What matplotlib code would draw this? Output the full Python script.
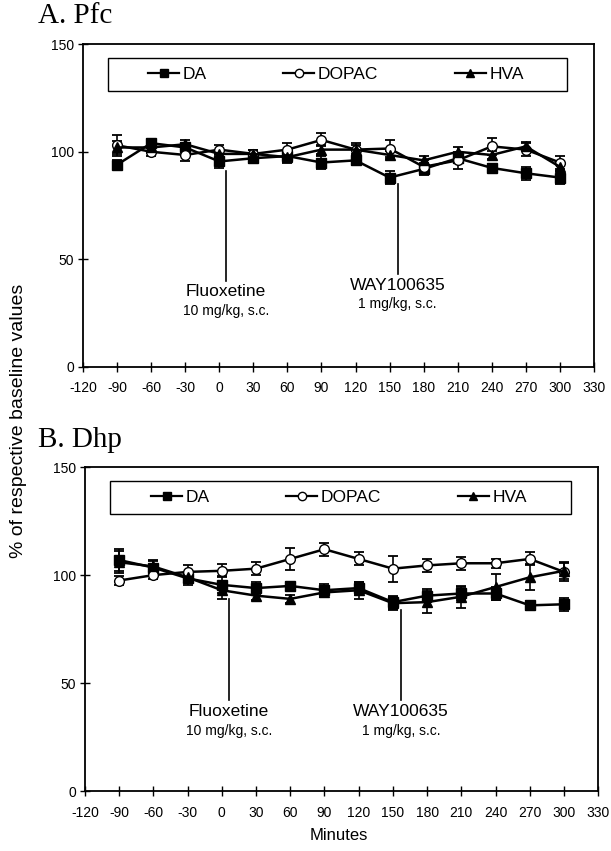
import matplotlib
matplotlib.use("Agg")
import matplotlib.pyplot as plt
from matplotlib.lines import Line2D
from matplotlib.patches import Rectangle

minutes = [-90, -60, -30, 0, 30, 60, 90, 120, 150, 180, 210, 240, 270, 300]
xticks = list(range(-120, 331, 30))

# Panel A - Pfc
pfc_da = [94, 104, 102, 95.5, 97, 98, 95, 96, 88, 92, 97, 92.5, 90, 88]
pfc_da_err = [2, 2, 2, 3, 2, 3, 3, 2, 3, 3, 2, 2, 3, 3]
pfc_dopac = [103, 100, 98.5, 101, 99, 101, 105.5, 101, 101.5, 93, 96, 102.5, 101, 95]
pfc_dopac_err = [5, 2, 3, 2, 2, 3, 3, 3, 4, 3, 4, 4, 3, 3]
pfc_hva = [102, 102, 103.5, 99, 99, 97.5, 101, 101, 98.5, 96, 100, 98.5, 102.5, 93]
pfc_hva_err = [3, 2, 2, 2, 2, 2, 2, 2, 2, 2, 2, 2, 2, 2]

# Panel B - Dhp
dhp_da = [107, 103.5, 98.5, 95.5, 94, 95, 93, 94, 87.5, 90.5, 91.5, 91.5, 86, 86.5]
dhp_da_err = [5, 3, 3, 4, 3, 2, 3, 3, 3, 3, 3, 3, 2, 3]
dhp_dopac = [97.5, 100, 101.5, 102, 103, 107.5, 112, 107.5, 103, 104.5, 105.5, 105.5, 107.5, 101.5]
dhp_dopac_err = [2, 2, 3, 3, 3, 5, 3, 3, 6, 3, 3, 2, 3, 4]
dhp_hva = [106, 104, 99, 93, 90.5, 89, 92, 93, 87, 87.5, 90, 94.5, 99, 102]
dhp_hva_err = [5, 3, 2, 4, 2, 2, 2, 4, 3, 5, 5, 6, 6, 4]

plt.rcParams['font.family'] = ['Liberation Sans', 'DejaVu Sans']
plt.rcParams['axes.unicode_minus'] = False

fig = plt.figure(figsize=(6.11, 8.51), dpi=100)
ax_a = fig.add_axes([0.136, 0.569, 0.836, 0.379])
ax_b = fig.add_axes([0.139, 0.0705, 0.840, 0.3805])


def draw_panel(ax, da, da_err, dopac, dopac_err, hva, hva_err, fluox_y, way_y):
    kw = dict(color='black', lw=1.8, capsize=3.5, elinewidth=1.2, capthick=1.3, ms=7)
    ax.errorbar(minutes, da, yerr=da_err, marker='s', mfc='black', **kw)
    ax.errorbar(minutes, dopac, yerr=dopac_err, marker='o', mfc='white', **kw)
    ax.errorbar(minutes, hva, yerr=hva_err, marker='^', mfc='black', **kw)

    ax.set_xlim(-120, 330)
    ax.set_ylim(0, 150)
    ax.set_xticks(xticks)
    ax.set_yticks([0, 50, 100, 150])
    ax.tick_params(direction='inout', length=7, width=1, labelsize=10, pad=3)
    ax.tick_params(axis='x', pad=7)
    for s in ax.spines.values():
        s.set_linewidth(1.3)

    # injection markers
    ax.plot([6, 6], fluox_y, color='black', lw=1.2)
    ax.plot([157, 157], way_y, color='black', lw=1.2)
    ax.text(6, fluox_y[1] - 5, 'Fluoxetine', ha='center', va='center', fontsize=12.5)
    ax.text(6, fluox_y[1] - 14, '10 mg/kg, s.c.', ha='center', va='center', fontsize=10)
    ax.text(157, way_y[1] - 5, 'WAY100635', ha='center', va='center', fontsize=12.5)
    ax.text(157, way_y[1] - 14, '1 mg/kg, s.c.', ha='center', va='center', fontsize=10)

    # legend: frameless entries inside a drawn box
    ax.add_patch(Rectangle((0.049, 0.855), 0.898, 0.102, transform=ax.transAxes,
                           fill=False, edgecolor='black', lw=1.0))
    handles = [
        Line2D([], [], color='black', lw=1.6, marker='s', ms=6, mfc='black'),
        Line2D([], [], color='black', lw=1.6, marker='o', ms=6, mfc='white'),
        Line2D([], [], color='black', lw=1.6, marker='^', ms=6, mfc='black'),
    ]
    ax.legend(handles, ['DA', 'DOPAC', 'HVA'], loc='center',
              bbox_to_anchor=(0.495, 0.906), ncol=3, fontsize=12.5, frameon=False,
              handlelength=1.8, handletextpad=0.2, columnspacing=4.4, borderpad=0)


draw_panel(ax_a, pfc_da, pfc_da_err, pfc_dopac, pfc_dopac_err, pfc_hva, pfc_hva_err,
           [91, 40], [85, 43])
draw_panel(ax_b, dhp_da, dhp_da_err, dhp_dopac, dhp_dopac_err, dhp_hva, dhp_hva_err,
           [89, 42], [84, 42])

fig.text(0.062, 0.981, 'A. Pfc', fontsize=21, family='Liberation Serif', va='center')
fig.text(0.062, 0.483, 'B. Dhp', fontsize=21, family='Liberation Serif', va='center')
fig.text(0.03, 0.505, '% of respective baseline values', rotation=90, fontsize=14,
         ha='center', va='center')
fig.text(0.555, 0.018, 'Minutes', fontsize=12, ha='center', va='center')

fig.savefig('out.png', dpi=100)
